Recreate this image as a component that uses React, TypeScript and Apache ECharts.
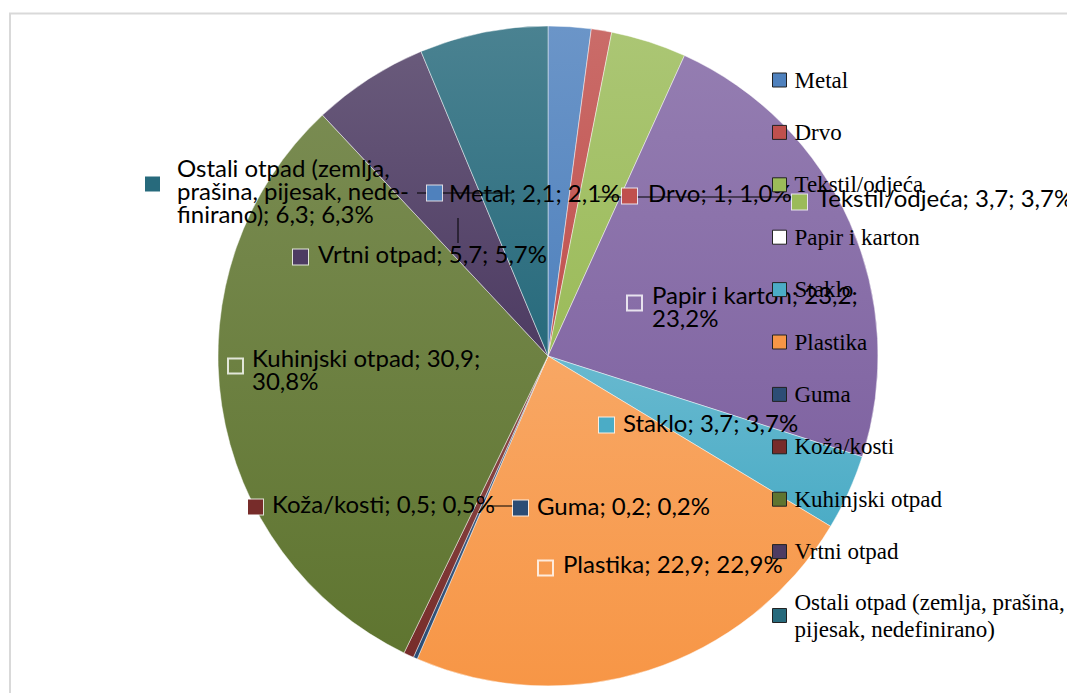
import React, { useEffect, useRef } from "react";
import * as echarts from "echarts";

// ---- data ----
const categories = [
  "Metal",
  "Drvo",
  "Tekstil/odjeća",
  "Papir i karton",
  "Staklo",
  "Plastika",
  "Guma",
  "Koža/kosti",
  "Kuhinjski otpad",
  "Vrtni otpad",
  "Ostali otpad (zemlja, prašina, pijesak, nedefinirano)",
];
const values = [2.1, 1, 3.7, 23.2, 3.7, 22.9, 0.2, 0.5, 30.9, 5.7, 6.3];
const percents = [2.1, 1.0, 3.7, 23.2, 3.7, 22.9, 0.2, 0.5, 30.8, 5.7, 6.3];

// ---- styles ----
const colors = [
  "#4F81BD", "#C0504D", "#9BBB59", "#8064A2", "#4BACC6", "#F79646",
  "#2C4D75", "#772C2A", "#5F7530", "#4D3B62", "#276A7C",
];
const hollowLabelKeys = [3, 5, 8];
const hollowLegendKeys = [3];

// label line breaks (as in the picture)
const labelBreaks: Record<number, [string, string][]> = {
  10: [["(zemlja, ", "(zemlja,\n"], ["nedefinirano", "nede-\nfinirano"]],
  3: [["; 23,2; ", "; 23,2;\n"]],
  8: [["; 30,9; ", "; 30,9;\n"]],
};
const legendBreaks: Record<number, [string, string][]> = {
  10: [["prašina, ", "prašina,\n"]],
};

// ---- label layout (chart pixel positions of the manually placed labels) ----
const textPos: [number, number][] = [
  [441, 184.5], [640, 184.5], [809, 189], [644, 297.5], [615, 414], [555, 555],
  [529, 497], [264, 495], [244, 360.5], [310, 245], [169, 182],
];
const keyPos: [number, number][] = [
  [419, 185], [614, 188], [784, 194], [619, 295], [591, 417], [530, 560],
  [505, 500], [240, 499], [220, 358], [285, 249], [137, 176],
];
const leaderLines: Record<number, number[][]> = {
  0: [[409, 185], [456, 185], [504, 185]],
  1: [[590, 189], [687, 189], [784, 189]],
  9: [[450, 210], [450, 222], [450, 235]],
  6: [[479, 498], [492, 498], [505, 498]],
};

const fmt = (v: number, d?: number) =>
  (d != null ? v.toFixed(d) : String(v)).replace(".", ",");

const applyBreaks = (s: string, list?: [string, string][]) => {
  let r = s;
  (list || []).forEach(([a, b]) => {
    r = r.replace(a, b);
  });
  return r;
};

const mix = (hex: string, t: number) => {
  const n = parseInt(hex.slice(1), 16);
  const r = (n >> 16) & 255, g = (n >> 8) & 255, b = n & 255;
  const f = (c: number) => Math.round(c + (255 - c) * t);
  return `rgb(${f(r)},${f(g)},${f(b)})`;
};

export default function App() {
  const ref = useRef<HTMLDivElement>(null);

  useEffect(() => {
    if (!ref.current) return;
    const chart = echarts.init(ref.current, undefined, { renderer: "svg" });

    const rich: Record<string, any> = {};
    categories.forEach((_, i) => {
      const hollow = hollowLabelKeys.includes(i);
      rich["m" + i] = {
        width: 15,
        height: 15,
        lineHeight: 17,
        backgroundColor: hollow ? "rgba(0,0,0,0)" : colors[i],
        borderColor: "rgba(255,255,255,0.8)",
        borderWidth: 1,
      };
    });

    const mainData = categories.map((name, i) => ({
      name,
      value: values[i],
      itemStyle: {
        color: new echarts.graphic.LinearGradient(0, 0, 0, 1, [
          { offset: 0, color: mix(colors[i], 0.16) },
          { offset: 1, color: colors[i] },
        ]),
      },
    }));

    const keyData = categories.map((name, i) => ({
      name,
      value: values[i],
      labelLine: leaderLines[i]
        ? { show: true, lineStyle: { color: "#000", width: 1 } }
        : { show: false },
    }));

    const common = {
      type: "pie",
      center: [540, 348],
      radius: 330,
      startAngle: 90,
      clockwise: true,
      avoidLabelOverlap: false,
    };

    chart.setOption({
      animation: false,
      graphic: [
        {
          type: "rect",
          silent: true,
          z: -10,
          shape: { x: 2, y: 5.5, width: 1058, height: 720 },
          style: { fill: "none", stroke: "#d9d9d9", lineWidth: 2 },
        },
      ],
      legend: {
        orient: "vertical",
        left: 764,
        top: 58.5,
        height: 620,
        padding: 0,
        itemWidth: 14,
        itemHeight: 14,
        itemGap: 25.4,
        icon: "rect",
        selectedMode: false,
        itemStyle: { borderColor: "#222", borderWidth: 1 },
        textStyle: {
          fontFamily: "Liberation Serif",
          fontSize: 23,
          lineHeight: 27,
          color: "#000",
        },
        formatter: (name: string) =>
          applyBreaks(name, legendBreaks[categories.indexOf(name)]),
        data: categories.map((name, i) => ({
          name,
          itemStyle: {
            color: hollowLegendKeys.includes(i) ? "#fff" : colors[i],
            borderColor: "#222",
            borderWidth: 1,
          },
          textStyle: {
            padding: legendBreaks[i] ? [0, 0, -27, 3] : [0, 0, 0, 3],
          },
        })),
      },
      series: [
        {
          ...common,
          name: "main",
          itemStyle: { borderColor: "rgba(255,255,255,0.45)", borderWidth: 1 },
          label: {
            show: true,
            position: "outside",
            overflow: "none",
            fontFamily: "Lato",
            fontSize: 24,
            lineHeight: 23,
            color: "#000",
            formatter: (p: any) =>
              applyBreaks(
                `${p.name}; ${fmt(values[p.dataIndex])}; ${fmt(percents[p.dataIndex], 1)}%`,
                labelBreaks[p.dataIndex]
              ),
          },
          labelLine: { show: false },
          emphasis: { disabled: true },
          labelLayout: (p: any) => ({
            x: textPos[p.dataIndex][0],
            y: textPos[p.dataIndex][1],
            align: "left",
            verticalAlign: "middle",
          }),
          data: mainData,
          z: 2,
        },
        {
          ...common,
          name: "keys",
          silent: true,
          itemStyle: { color: "rgba(0,0,0,0)", borderWidth: 0 },
          label: {
            show: true,
            position: "outside",
            overflow: "none",
            formatter: (p: any) => `{m${p.dataIndex}|}`,
            rich,
          },
          labelLine: { show: false },
          emphasis: { disabled: true },
          labelLayout: (p: any) => {
            const i = p.dataIndex;
            const o: any = {
              x: keyPos[i][0],
              y: keyPos[i][1],
              align: "left",
              verticalAlign: "middle",
            };
            if (leaderLines[i]) o.labelLinePoints = leaderLines[i];
            return o;
          },
          data: keyData,
          z: 3,
        },
      ],
    });

    return () => chart.dispose();
  }, []);

  return <div ref={ref} style={{ width: 1067, height: 685 }} />;
}
